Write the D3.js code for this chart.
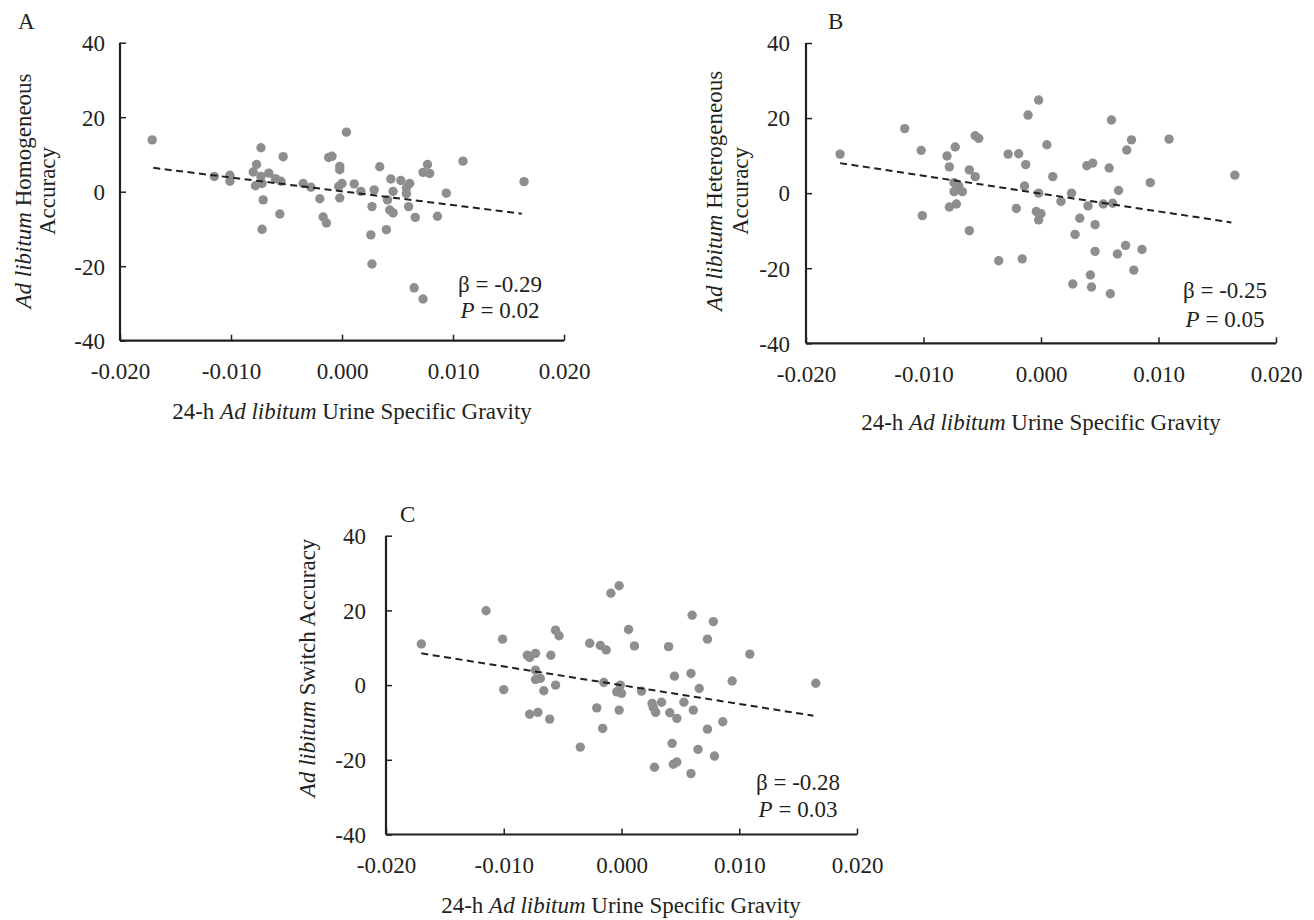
<!DOCTYPE html>
<html>
<head>
<meta charset="utf-8">
<script src="https://cdn.jsdelivr.net/npm/d3@7"></script>
<style>
  html, body { margin: 0; padding: 0; background: #ffffff; }
  svg { display: block; }
  text { font-family: "Liberation Serif", "Times New Roman", serif; fill: #231f20; }
</style>
</head>
<body>
<svg id="chart" width="1314" height="920"></svg>
<script>
// ---------- DATA ----------
const xTicks = [-0.020, -0.010, 0.000, 0.010, 0.020];
const yTicks = [-40, -20, 0, 20, 40];

// Panel A: Homogeneous accuracy
const aX = [-0.0171,-0.0115,-0.0101,-0.0101,-0.0073,-0.0077,-0.0080,-0.0073,-0.0078,-0.0072,
            -0.0066,-0.0060,-0.0055,-0.0053,-0.0071,-0.0056,-0.0072,-0.0035,-0.0028,-0.0020,
            -0.0017,-0.0014,-0.0012,-0.0009,-0.0002,-0.0002,-0.0003,0.0000,-0.0002,0.0004,
            0.0011,0.0017,0.0029,0.0027,0.0026,0.0027,0.0034,0.0040,0.0041,0.0043,
            0.0046,0.0044,0.0046,0.0053,0.0061,0.0058,0.0058,0.0060,0.0066,0.0065,
            0.0073,0.0073,0.0079,0.0077,0.0086,0.0094,0.0109,0.0164];
const aY = [13.9,4.1,4.4,2.8,11.8,7.3,5.3,4.1,1.6,2.2,
            5.0,3.5,2.8,9.4,-2.2,-6.0,-10.1,2.2,1.2,-1.9,
            -6.8,-8.4,9.2,9.5,6.8,5.9,1.4,2.2,-1.7,16.0,
            2.1,0.1,0.5,-4.0,-11.6,-19.4,6.7,-10.2,-2.2,-4.9,
            -5.7,3.4,0.1,3.0,2.2,1.0,-0.5,-4.0,-6.9,-25.8,
            -28.8,5.2,4.9,7.3,-6.6,-0.4,8.2,2.7];
const aTrendX = [-0.0170, 0.0162];
const aTrendY = [6.4, -5.9];

// Panel B: Heterogeneous accuracy
const bX = [-0.0171,-0.0116,-0.0102,-0.0101,-0.0073,-0.0080,-0.0078,-0.0061,-0.0056,-0.0053,
            -0.0056,-0.0074,-0.0070,-0.0074,-0.0067,-0.0078,-0.0072,-0.0061,-0.0036,-0.0016,
            -0.0028,-0.0019,-0.0013,-0.0014,-0.0021,-0.0011,-0.0002,0.0005,0.0010,-0.0002,
            -0.0004,0.0000,-0.0002,0.0017,0.0026,0.0040,0.0033,0.0029,0.0046,0.0053,
            0.0061,0.0039,0.0044,0.0058,0.0060,0.0073,0.0077,0.0066,0.0093,0.0109,
            0.0165,0.0046,0.0065,0.0072,0.0086,0.0079,0.0042,0.0027,0.0043,0.0059];
const bY = [10.4,17.2,11.4,-6.0,12.3,9.9,7.0,6.2,15.3,14.6,
            4.4,2.8,1.9,0.4,0.4,-3.7,-2.9,-10.0,-18.0,-17.5,
            10.4,10.5,7.6,1.9,-4.1,20.8,24.8,12.9,4.4,0.0,
            -4.9,-5.5,-7.1,-2.2,0.0,-3.4,-6.7,-11.0,-8.4,-2.9,
            -2.7,7.3,8.0,6.7,19.5,11.5,14.2,0.7,2.8,14.4,
            4.8,-15.5,-16.2,-13.9,-15.0,-20.5,-21.8,-24.2,-25.0,-26.8];
const bTrendX = [-0.0171, 0.0162];
const bTrendY = [8.0, -7.8];

// Panel C: Switch accuracy
const cX = [-0.0170,-0.0115,-0.0101,-0.0100,-0.0080,-0.0078,-0.0073,-0.0073,-0.0073,-0.0069,
            -0.0066,-0.0078,-0.0071,-0.0061,-0.0060,-0.0056,-0.0053,-0.0056,-0.0035,-0.0027,
            -0.0021,-0.0018,-0.0013,-0.0016,-0.0009,-0.0002,0.0006,0.0011,-0.0015,-0.0001,
            -0.0004,0.0000,-0.0002,0.0017,0.0026,0.0027,0.0029,0.0034,0.0041,0.0047,
            0.0053,0.0061,0.0040,0.0045,0.0059,0.0066,0.0060,0.0073,0.0078,0.0094,
            0.0109,0.0165,0.0073,0.0086,0.0065,0.0079,0.0043,0.0044,0.0047,0.0028,0.0059];
const cY = [11.0,19.9,12.3,-1.2,8.0,7.4,8.5,4.0,1.5,1.8,
            -1.5,-7.8,-7.3,-9.1,8.0,14.7,13.2,0.0,-16.6,11.2,
            -6.1,10.6,9.4,-11.6,24.6,26.6,14.9,10.5,0.7,0.0,
            -1.8,-2.2,-6.7,-1.6,-4.9,-6.0,-7.3,-4.6,-7.4,-8.9,
            -4.6,-6.7,10.3,2.4,3.1,-0.9,18.7,12.3,17.0,1.1,
            8.3,0.5,-11.8,-9.8,-17.2,-19.0,-15.6,-21.2,-20.6,-22.0,-23.7];
const cTrendX = [-0.0170, 0.0163];
const cTrendY = [8.5, -8.2];

const letters = ["A", "B", "C"];
const yTitles = [
  [["Ad libitum", " Homogeneous"], ["", "Accuracy"]],
  [["Ad libitum", " Heterogeneous"], ["", "Accuracy"]],
  [["Ad libitum", " Switch Accuracy"]]
];
const statBeta = ["β = -0.29", "β = -0.25", "β = -0.28"];
const statP = ["0.02", "0.05", "0.03"];

// ---------- DRAW ----------
const svg = d3.select("#chart");
svg.append("rect").attr("width", 1314).attr("height", 920).attr("fill", "#ffffff");

const ink = "#231f20";
const dotColor = "#8d8e90";
const FS = 23;
const hyphen = f => (d => f(d).replace("\u2212", "-"));

const panels = [
  { xs: aX, ys: aY, tx: aTrendX, ty: aTrendY, x0: 120, x1: 564, yT: 42.7, yB: 340.7,
    letter: [18, 29], yTitleX: [31, 55], yTitleC: 191, xTitle: [352, 419], stat: [500, 292, 318], yLblGap: 15 },
  { xs: bX, ys: bY, tx: bTrendX, ty: bTrendY, x0: 806, x1: 1276, yT: 43, yB: 343.3,
    letter: [828, 29], yTitleX: [722, 748], yTitleC: 191, xTitle: [1041, 430], stat: [1225, 298, 327], yLblGap: 16 },
  { xs: cX, ys: cY, tx: cTrendX, ty: cTrendY, x0: 386, x1: 857, yT: 535.7, yB: 834.5,
    letter: [400, 522], yTitleX: [315], yTitleC: 668, xTitle: [621, 913], stat: [798, 790, 817], yLblGap: 20 }
];

panels.forEach((p, i) => {
  const g = svg.append("g");
  const x = d3.scaleLinear().domain([-0.02, 0.02]).range([p.x0, p.x1]);
  const y = d3.scaleLinear().domain([-40, 40]).range([p.yB, p.yT]);

  // axes (ticks pointing inward)
  const yAxis = d3.axisLeft(y).tickValues(yTicks).tickSize(-6).tickPadding(p.yLblGap).tickFormat(hyphen(d3.format("d")));
  const xAxis = d3.axisBottom(x).tickValues(xTicks).tickSize(-6).tickPadding(18).tickFormat(hyphen(d3.format(".3f")));

  const gy = g.append("g").attr("transform", `translate(${p.x0},0)`).call(yAxis);
  const gx = g.append("g").attr("transform", `translate(0,${p.yB})`).call(xAxis);
  [gx, gy].forEach(ax => {
    ax.select(".domain").attr("stroke", ink).attr("stroke-width", 2.2)
      .attr("d", ax === gx ? `M${p.x0},0H${p.x1}` : `M0,${p.yT}V${p.yB}`);
    ax.selectAll(".tick line").attr("stroke", ink).attr("stroke-width", 1.5);
    ax.selectAll(".tick text").attr("fill", ink).style("font-size", FS + "px")
      .style("font-family", '"Liberation Serif", "Times New Roman", serif');
  });
  gx.selectAll(".tick text").attr("dy", "0.9em");
  gy.selectAll(".tick text").attr("dy", "0.34em");

  // points
  const pts = p.xs.map((v, k) => [v, p.ys[k]]);
  g.append("g").selectAll("circle").data(pts).join("circle")
    .attr("cx", d => x(d[0])).attr("cy", d => y(d[1]))
    .attr("r", 4.7).attr("fill", dotColor);

  // trend line
  g.append("line")
    .attr("x1", x(p.tx[0])).attr("y1", y(p.ty[0]))
    .attr("x2", x(p.tx[1])).attr("y2", y(p.ty[1]))
    .attr("stroke", ink).attr("stroke-width", 2).attr("stroke-dasharray", "7,4.5");

  // panel letter
  g.append("text").attr("x", p.letter[0]).attr("y", p.letter[1])
    .style("font-size", FS + "px").text(letters[i]);

  // y title
  yTitles[i].forEach((line, li) => {
    const t = g.append("text")
      .attr("transform", `translate(${p.yTitleX[li]},${p.yTitleC}) rotate(-90)`)
      .attr("text-anchor", "middle").style("font-size", FS + "px");
    if (line[0]) t.append("tspan").style("font-style", "italic").text(line[0]);
    t.append("tspan").text(line[1]);
  });

  // x title
  const xt = g.append("text").attr("x", p.xTitle[0]).attr("y", p.xTitle[1])
    .attr("text-anchor", "middle").style("font-size", FS + "px");
  xt.append("tspan").text("24-h ");
  xt.append("tspan").style("font-style", "italic").text("Ad libitum");
  xt.append("tspan").text(" Urine Specific Gravity");

  // stats
  g.append("text").attr("x", p.stat[0]).attr("y", p.stat[1])
    .attr("text-anchor", "middle").style("font-size", FS + "px").text(statBeta[i]);
  const pt = g.append("text").attr("x", p.stat[0]).attr("y", p.stat[2])
    .attr("text-anchor", "middle").style("font-size", FS + "px");
  pt.append("tspan").style("font-style", "italic").text("P");
  pt.append("tspan").text(" = " + statP[i]);
});
</script>
</body>
</html>
